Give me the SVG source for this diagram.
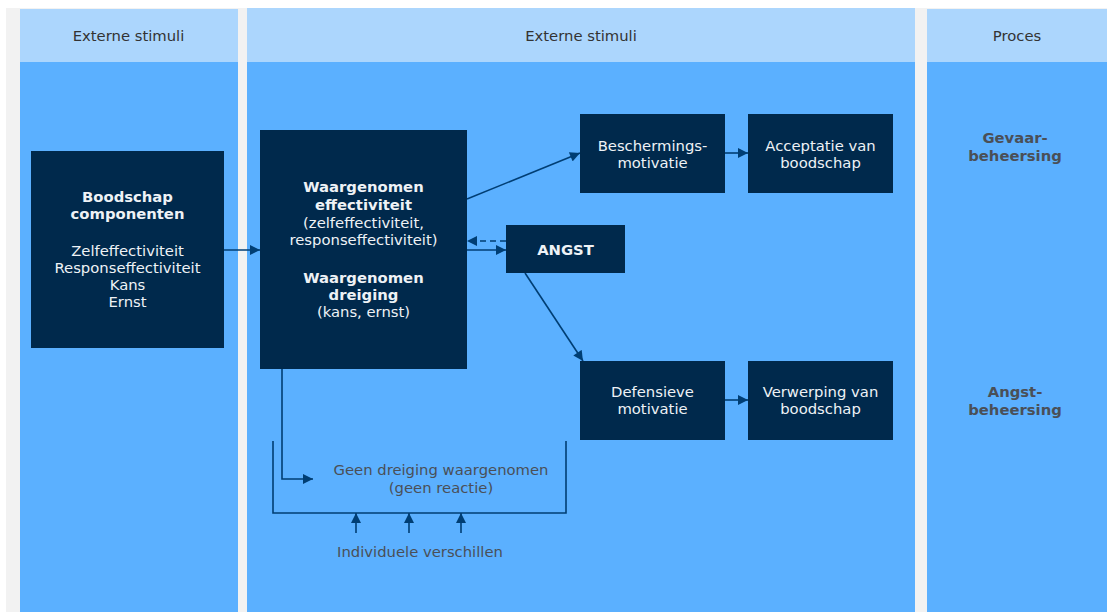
<svg xmlns="http://www.w3.org/2000/svg" width="1107" height="612" viewBox="0 0 1107 612">
<defs>
<marker id="ah" viewBox="0 0 10 10" refX="10" refY="5" markerWidth="11" markerHeight="10" markerUnits="userSpaceOnUse" orient="auto">
<path d="M0,0 L10,5 L0,10 Z" fill="#003e74"/>
</marker>
<style>
.hdr{fill:#acd6fd}
.body{fill:#5bb0ff}
.node{fill:#00294c}
.t{font-family:"DejaVu Sans",Verdana,sans-serif;font-size:14.8px;text-anchor:middle}
.w{fill:#eef2f6}
.g{fill:#4a4f57}
.b{font-weight:bold}
.ln{stroke:#003e74;stroke-width:1.6;fill:none}
</style>
</defs>
<rect x="0" y="0" width="1107" height="612" fill="#ffffff"/>
<rect x="6" y="8" width="1101" height="604" fill="#f2f2f2"/>
<g id="columns">
<rect class="hdr" x="20" y="9" width="218" height="53"/>
<rect class="body" x="20" y="62" width="218" height="550"/>
<rect class="hdr" x="247" y="8" width="668" height="54"/>
<rect class="body" x="247" y="62" width="668" height="550"/>
<rect class="hdr" x="927" y="9" width="180" height="53"/>
<rect class="body" x="927" y="62" width="180" height="550"/>
<text class="t" x="128.5" y="41" fill="#333">Externe stimuli</text>
<text class="t" x="581" y="41" fill="#333">Externe stimuli</text>
<text class="t" x="1017" y="41" fill="#333">Proces</text>
<text class="t g b" x="1015" y="143">Gevaar-</text>
<text class="t g b" x="1015" y="161">beheersing</text>
<text class="t g b" x="1015" y="397">Angst-</text>
<text class="t g b" x="1015" y="415">beheersing</text>
</g>
<g id="connectors">
<line class="ln" x1="224" y1="250" x2="260" y2="250" marker-end="url(#ah)"/>
<line class="ln" x1="467" y1="250" x2="506" y2="250" marker-end="url(#ah)"/>
<line class="ln" x1="506" y1="241" x2="467" y2="241" stroke-dasharray="6,4" marker-end="url(#ah)"/>
<line class="ln" x1="467" y1="199" x2="580" y2="153" marker-end="url(#ah)"/>
<line class="ln" x1="525" y1="273" x2="583" y2="361" marker-end="url(#ah)"/>
<line class="ln" x1="725" y1="153" x2="748" y2="153" marker-end="url(#ah)"/>
<line class="ln" x1="725" y1="400" x2="748" y2="400" marker-end="url(#ah)"/>
<polyline class="ln" points="282,369 282,479 313,479" marker-end="url(#ah)"/>
<polyline class="ln" points="273,441 273,513 566,513 566,441"/>
<line class="ln" x1="356" y1="533" x2="356" y2="513" marker-end="url(#ah)"/>
<line class="ln" x1="409" y1="533" x2="409" y2="513" marker-end="url(#ah)"/>
<line class="ln" x1="461" y1="533" x2="461" y2="513" marker-end="url(#ah)"/>
<text class="t g" x="441" y="475">Geen dreiging waargenomen</text>
<text class="t g" x="441" y="493">(geen reactie)</text>
<text class="t g" x="420" y="557">Individuele verschillen</text>
</g>
<g id="boodschap">
<rect class="node" x="31" y="151" width="193" height="197"/>
<text class="t w b" x="127.5" y="202">Boodschap</text>
<text class="t w b" x="127.5" y="219">componenten</text>
<text class="t w" x="127.5" y="256">Zelfeffectiviteit</text>
<text class="t w" x="127.5" y="273">Responseffectiviteit</text>
<text class="t w" x="127.5" y="290">Kans</text>
<text class="t w" x="127.5" y="307">Ernst</text>
</g>
<g id="waargenomen">
<rect class="node" x="260" y="130" width="207" height="239"/>
<text class="t w b" x="363.5" y="192">Waargenomen</text>
<text class="t w b" x="363.5" y="210">effectiviteit</text>
<text class="t w" x="363.5" y="228">(zelfeffectiviteit,</text>
<text class="t w" x="363.5" y="245">responseffectiviteit)</text>
<text class="t w b" x="363.5" y="283">Waargenomen</text>
<text class="t w b" x="363.5" y="300">dreiging</text>
<text class="t w" x="363.5" y="317">(kans, ernst)</text>
</g>
<g id="angst">
<rect class="node" x="506" y="225" width="119" height="48"/>
<text class="t w b" x="565.5" y="255">ANGST</text>
</g>
<g id="bescherming">
<rect class="node" x="580" y="114" width="145" height="79"/>
<text class="t w" x="652.5" y="151">Beschermings-</text>
<text class="t w" x="652.5" y="168">motivatie</text>
</g>
<g id="acceptatie">
<rect class="node" x="748" y="114" width="145" height="79"/>
<text class="t w" x="820.5" y="151">Acceptatie van</text>
<text class="t w" x="820.5" y="168">boodschap</text>
</g>
<g id="defensief">
<rect class="node" x="580" y="361" width="145" height="79"/>
<text class="t w" x="652.5" y="397">Defensieve</text>
<text class="t w" x="652.5" y="414">motivatie</text>
</g>
<g id="verwerping">
<rect class="node" x="748" y="361" width="145" height="79"/>
<text class="t w" x="820.5" y="397">Verwerping van</text>
<text class="t w" x="820.5" y="414">boodschap</text>
</g>
</svg>
